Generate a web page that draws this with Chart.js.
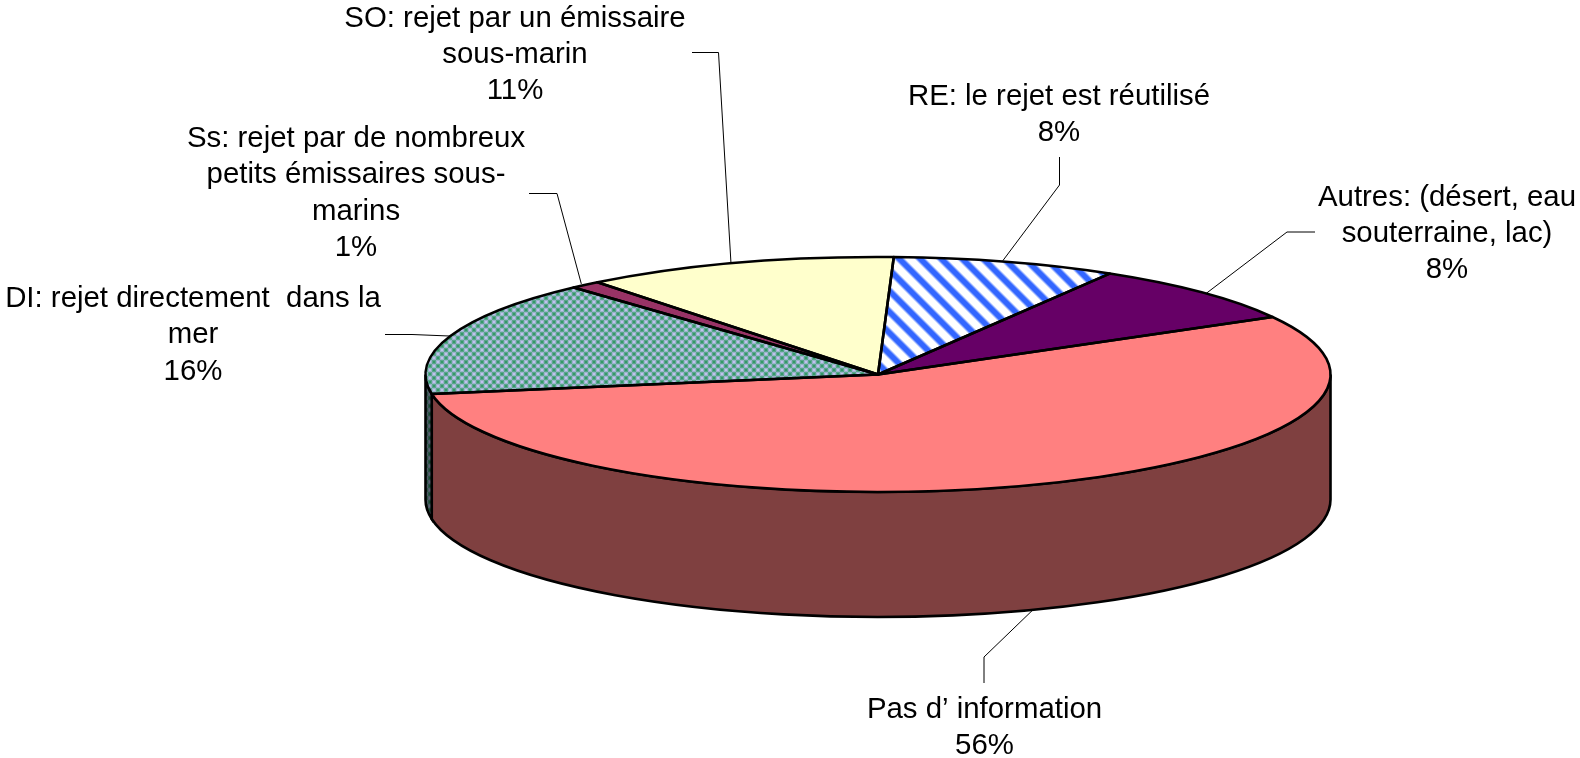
<!DOCTYPE html>
<html><head><meta charset="utf-8">
<style>html,body{margin:0;padding:0;background:#fff}canvas{display:block}</style>
<script src="https://cdn.jsdelivr.net/npm/chart.js@4"></script>
</head><body>
<canvas id="c" width="1580" height="758"></canvas>
<script>
const categories = ["RE","Autres","Pas d'information","DI","Ss","SO"];
const shares = [8.0, 8.3, 55.5, 15.9, 1.1, 11.2];
const labelLines = [
  ["RE: le rejet est réutilisé"],
  ["Autres: (désert, eau","souterraine, lac)"],
  ["Pas d’ information"],
  ["DI: rejet directement  dans la","mer"],
  ["Ss: rejet par de nombreux","petits émissaires sous-","marins"],
  ["SO: rejet par un émissaire","sous-marin"]
];
const topColors = ["#3366FF","#660066","#FF8080","#339966","#993366","#FFFFCC"];
const sideColors = ["#1933AA","#330033","#7F4040","#194C33","#4C1933","#7F7F66"];

// layout (not data)
const labelCenterX = [1059, 1447, 984.5, 193, 356, 515];
const labelFirstY  = [97, 197.5, 709.5, 299, 139, 18.5];
const leaderElbows = [
  [[1059.5,157],[1059.5,185]],
  [[1315,232],[1287,232]],
  [[984,683],[984,657]],
  [[385,334.5],[412,334.5]],
  [[529,193.5],[557,193.5]],
  [[692,52.5],[718.5,52.5]]
];
const leaderNudge = [[-3,-1],[4,1],[4,0],[0,0],[-4,-1],[-6,0]];
const RX = 452.5, RY = 117.5, DEPTH = 125, LINE_H = 36.2, FONT_PX = 29.4, EDGE = 2.6;

const hex=c=>[1,3,5].map(i=>parseInt(c.substr(i,2),16));
function paint(w,h,fn){
  const t=document.createElement('canvas'); t.width=w; t.height=h;
  const g=t.getContext('2d'), im=g.createImageData(w,h);
  for(let y=0;y<h;y++)for(let x=0;x<w;x++){
    const c=fn(x,y), o=(y*w+x)*4;
    im.data[o]=c[0]; im.data[o+1]=c[1]; im.data[o+2]=c[2]; im.data[o+3]=255;
  }
  g.putImageData(im,0,0); return t;
}
const mix=(a,b,k)=>a.map((v,i)=>Math.round(v+(b[i]-v)*k));
function stripes(fg,bg){
  const s=21, F=hex(fg), B=hex(bg);
  return paint(s,s,(x,y)=>{
    const u=((x-y)%s+s)%s, d=Math.abs(u-s/2)/s;
    const k=Math.min(1,Math.max(0,(0.29-d)/0.15));
    return mix(B,F,k);
  });
}
function checks(a,b){
  const c=4, A=hex(a), B=hex(b);
  return paint(c*2,c*2,(x,y)=>{
    const inner=(x%c===1||x%c===2)&&(y%c===1||y%c===2);
    const on=((x<c)===(y<c));
    const k=inner?1:0.72;
    return on?mix(A,B,k):mix(B,A,k);
  });
}
const off=document.createElement('canvas').getContext('2d');
const rePattern=off.createPattern(stripes('#3366FF','#FFFFFF'),'repeat');
const diPattern=off.createPattern(checks('#C0C0F0','#339966'),'repeat');
const diSide=off.createPattern(checks('#606078','#194C33'),'repeat');
const fills=topColors.slice(); fills[0]=rePattern; fills[3]=diPattern;
const sideFills=sideColors.slice(); sideFills[3]=diSide;

const pie3d={
  id:'pie3d',
  beforeDatasetsDraw(chart){
    const ctx=chart.ctx, arcs=chart.getDatasetMeta(0).data;
    const {x:cx,y:cy,outerRadius:r}=arcs[0].getProps(['x','y','outerRadius'],true);
    arcs.forEach((el,i)=>{
      const p=el.getProps(['startAngle','endAngle'],true);
      const TAU=Math.PI*2;
      for(const shift of [0,-TAU,TAU]){
        const a0=Math.max(p.startAngle+shift,0), a1=Math.min(p.endAngle+shift,Math.PI);
        if(a1<=a0) continue;
        ctx.beginPath();
        ctx.ellipse(cx,cy,RX,RY,0,a0,a1);
        ctx.ellipse(cx,cy+DEPTH,RX,RY,0,a1,a0,true);
        ctx.closePath();
        ctx.fillStyle=sideFills[i]; ctx.fill();
        ctx.strokeStyle='#000'; ctx.lineWidth=EDGE; ctx.stroke();
      }
    });
    ctx.save();
    ctx.translate(cx,cy); ctx.scale(RX/r,RY/r); ctx.translate(-cx,-cy);
    const inv=ctx.getTransform().inverse();
    rePattern.setTransform(inv); diPattern.setTransform(inv);
  },
  afterDatasetsDraw(chart){
    const ctx=chart.ctx, arcs=chart.getDatasetMeta(0).data;
    ctx.restore();
    rePattern.setTransform(new DOMMatrix()); diPattern.setTransform(new DOMMatrix());
    ctx.strokeStyle='#000'; ctx.lineWidth=EDGE; ctx.lineJoin='round';
    arcs.forEach(el=>{
      const p=el.getProps(['x','y','startAngle','endAngle'],true);
      ctx.beginPath(); ctx.moveTo(p.x,p.y);
      ctx.ellipse(p.x,p.y,RX,RY,0,p.startAngle,p.endAngle);
      ctx.closePath(); ctx.stroke();
    });
  },
  afterDraw(chart){
    const ctx=chart.ctx, arcs=chart.getDatasetMeta(0).data;
    ctx.save();
    ctx.strokeStyle='#000'; ctx.lineWidth=1;
    arcs.forEach((el,i)=>{
      const p=el.getProps(['x','y','startAngle','endAngle'],true);
      const m=(p.startAngle+p.endAngle)/2, sy=Math.sin(m);
      const ex=p.x+RX*Math.cos(m)+leaderNudge[i][0], ey=p.y+RY*sy+(sy>0?DEPTH:0)+leaderNudge[i][1];
      const [a,b]=leaderElbows[i];
      ctx.beginPath(); ctx.moveTo(a[0],a[1]); ctx.lineTo(b[0],b[1]); ctx.lineTo(ex,ey); ctx.stroke();
    });
    ctx.fillStyle='#000'; ctx.textAlign='center'; ctx.textBaseline='middle';
    ctx.font=FONT_PX+'px "Liberation Sans", Arial, sans-serif';
    shares.forEach((v,i)=>{
      const lines=labelLines[i].concat([Math.round(v)+'%']);
      lines.forEach((t,k)=>ctx.fillText(t,labelCenterX[i],labelFirstY[i]+k*LINE_H));
    });
    ctx.restore();
  }
};

new Chart(document.getElementById('c'),{
  type:'pie',
  data:{labels:categories,datasets:[{data:shares,backgroundColor:fills,borderWidth:0,clip:false}]},
  options:{
    responsive:false,animation:false,rotation:2,
    layout:{padding:{left:176,right:0,top:0,bottom:9}},
    events:[],
    plugins:{legend:{display:false},tooltip:{enabled:false},title:{display:false}}
  },
  plugins:[pie3d]
});
</script>
</body></html>
